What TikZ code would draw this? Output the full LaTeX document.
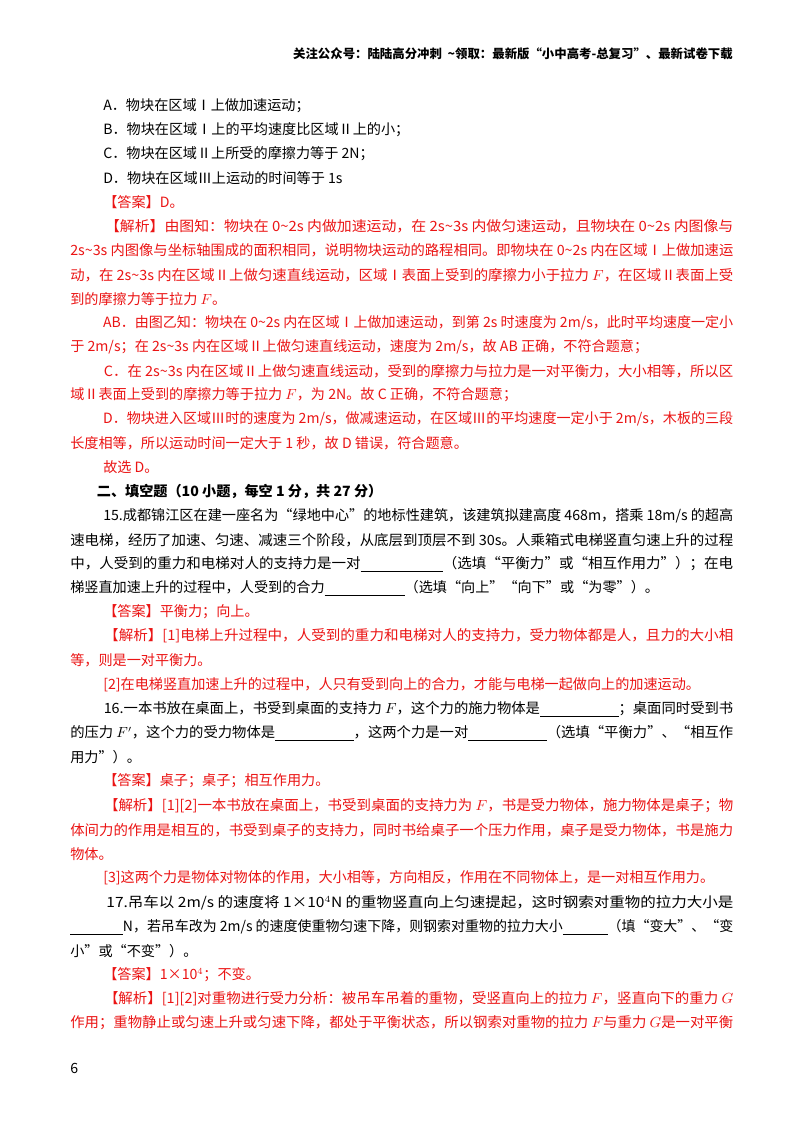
\documentclass[tikz,border=0pt]{standalone}
\usepackage{fontspec}
\usepackage{graphicx}
\setmainfont{Noto Sans CJK SC}
\definecolor{ansred}{RGB}{235,20,20}
\newcommand\fl[1]{\resizebox{497.25pt}{\height}{#1}}
\newcommand\ind{\hspace*{24.75pt}}
\newcommand\blank[1]{\rule[-2pt]{#1}{0.4pt}}
\tikzset{ln/.style={anchor=west,inner sep=0pt,font=\fontsize{10.6pt}{12pt}\selectfont},
 rd/.style={ln,text=ansred}}
\begin{document}
\begin{tikzpicture}[x=0.75pt,y=-0.75pt]
\useasboundingbox (0,0) rectangle (800,1132);
\fill[white] (0,0) rectangle (800,1132);
\node[anchor=east,inner sep=0pt,font=\fontsize{9.3pt}{11pt}\selectfont\bfseries] (hd) at (733,54) {关注公众号：陆陆高分冲刺\ \ \textasciitilde 领取：最新版“小中高考-总复习”、最新试卷下载};
\node[ln] (a) at (70,106) {\ind A．物块在区域Ⅰ上做加速运动；};
\node[ln] (b) at (70,130) {\ind B．物块在区域Ⅰ上的平均速度比区域Ⅱ上的小；};
\node[ln] (c) at (70,154) {\ind C．物块在区域Ⅱ上所受的摩擦力等于 2N；};
\node[ln] (d) at (70,178) {\ind D．物块在区域Ⅲ上运动的时间等于 1s};
\node[rd] (ans) at (70,202) {\ind 【答案】D。};
\node[rd] (j1) at (70,226) {\fl{\ind 【解析】由图知：物块在 0\textasciitilde 2s 内做加速运动，在 2s\textasciitilde 3s 内做匀速运动，且物块在 0\textasciitilde 2s 内图像与}};
\node[rd] (j2) at (70,250) {\fl{2s\textasciitilde 3s 内图像与坐标轴围成的面积相同，说明物块运动的路程相同。即物块在 0\textasciitilde 2s 内在区域Ⅰ上做加速运}};
\node[rd] (j3) at (70,275) {\fl{动，在 2s\textasciitilde 3s 内在区域Ⅱ上做匀速直线运动，区域Ⅰ表面上受到的摩擦力小于拉力 $F$，在区域Ⅱ表面上受}};
\node[rd] (j4) at (70,299) {到的摩擦力等于拉力 $F$。};
\node[rd] (j5) at (70,323) {\fl{\ind AB．由图乙知：物块在 0\textasciitilde 2s 内在区域Ⅰ上做加速运动，到第 2s 时速度为 2m/s，此时平均速度一定小}};
\node[rd] (j6) at (70,347) {于 2m/s；在 2s\textasciitilde 3s 内在区域Ⅱ上做匀速直线运动，速度为 2m/s，故 AB 正确，不符合题意；};
\node[rd] (j7) at (70,371) {\fl{\ind C．在 2s\textasciitilde 3s 内在区域Ⅱ上做匀速直线运动，受到的摩擦力与拉力是一对平衡力，大小相等，所以区}};
\node[rd] (j8) at (70,395) {域Ⅱ表面上受到的摩擦力等于拉力 $F$，为 2N。故 C 正确，不符合题意；};
\node[rd] (j9) at (70,419) {\fl{\ind D．物块进入区域Ⅲ时的速度为 2m/s，做减速运动，在区域Ⅲ的平均速度一定小于 2m/s，木板的三段}};
\node[rd] (j10) at (70,443) {长度相等，所以运动时间一定大于 1 秒，故 D 错误，符合题意。};
\node[rd] (j11) at (70,467) {\ind 故选 D。};
\node[ln,font=\fontsize{10.6pt}{12pt}\selectfont\bfseries] (sec) at (70,491) {\hspace*{20pt}二、填空题（10 小题，每空 1 分，共 27 分）};
\node[ln] (q1) at (70,516) {\fl{\ind 15.成都锦江区在建一座名为“绿地中心”的地标性建筑，该建筑拟建高度 468m，搭乘 18m/s 的超高}};
\node[ln] (q2) at (70,540) {\fl{速电梯，经历了加速、匀速、减速三个阶段，从底层到顶层不到 30s。人乘箱式电梯竖直匀速上升的过程}};
\node[ln] (q3) at (70,564) {\fl{中，人受到的重力和电梯对人的支持力是一对\blank{60pt}（选填“平衡力”或“相互作用力”）；在电}};
\node[ln] (q4) at (70,588) {梯竖直加速上升的过程中，人受到的合力\blank{60pt}（选填“向上”“向下”或“为零”）。};
\node[rd] (a15) at (70,612) {\ind 【答案】平衡力；向上。};
\node[rd] (k1) at (70,636) {\fl{\ind 【解析】[1]电梯上升过程中，人受到的重力和电梯对人的支持力，受力物体都是人，且力的大小相}};
\node[rd] (k2) at (70,660) {等，则是一对平衡力。};
\node[rd] (k3) at (70,685) {\ind [2]在电梯竖直加速上升的过程中，人只有受到向上的合力，才能与电梯一起做向上的加速运动。};
\node[ln] (r1) at (70,709) {\fl{\ind 16.一本书放在桌面上，书受到桌面的支持力 $F$，这个力的施力物体是\blank{58pt}；桌面同时受到书}};
\node[ln] (r2) at (70,733) {\fl{的压力 $F'$，这个力的受力物体是\blank{58pt}，这两个力是一对\blank{58pt}（选填“平衡力”、“相互作}};
\node[ln] (r3) at (70,757) {用力”）。};
\node[rd] (a16) at (70,781) {\ind 【答案】桌子；桌子；相互作用力。};
\node[rd] (m1) at (70,806) {\fl{\ind 【解析】[1][2]一本书放在桌面上，书受到桌面的支持力为 $F$，书是受力物体，施力物体是桌子；物}};
\node[rd] (m2) at (70,830) {\fl{体间力的作用是相互的，书受到桌子的支持力，同时书给桌子一个压力作用，桌子是受力物体，书是施力}};
\node[rd] (m3) at (70,854) {物体。};
\node[rd] (m4) at (70,878) {\ind [3]这两个力是物体对物体的作用，大小相等，方向相反，作用在不同物体上，是一对相互作用力。};
\node[ln] (s1) at (70,903) {\fl{\ind 17.吊车以 2m/s 的速度将 1×10$^4$N 的重物竖直向上匀速提起，这时钢索对重物的拉力大小是}};
\node[ln] (s2) at (70,927) {\fl{\blank{40pt}N，若吊车改为 2m/s 的速度使重物匀速下降，则钢索对重物的拉力大小\blank{34pt}（填“变大”、“变}};
\node[ln] (s3) at (70,951) {小”或“不变”）。};
\node[rd] (a17) at (70,975) {\ind 【答案】1×10$^4$；不变。};
\node[rd] (n1) at (70,999) {\fl{\ind 【解析】[1][2]对重物进行受力分析：被吊车吊着的重物，受竖直向上的拉力 $F$，竖直向下的重力 $G$}};
\node[rd] (n2) at (70,1023) {\fl{作用；重物静止或匀速上升或匀速下降，都处于平衡状态，所以钢索对重物的拉力 $F$与重力 $G$是一对平衡}};
\node[ln] (pg) at (70,1068) {6};
\end{tikzpicture}
\end{document}
